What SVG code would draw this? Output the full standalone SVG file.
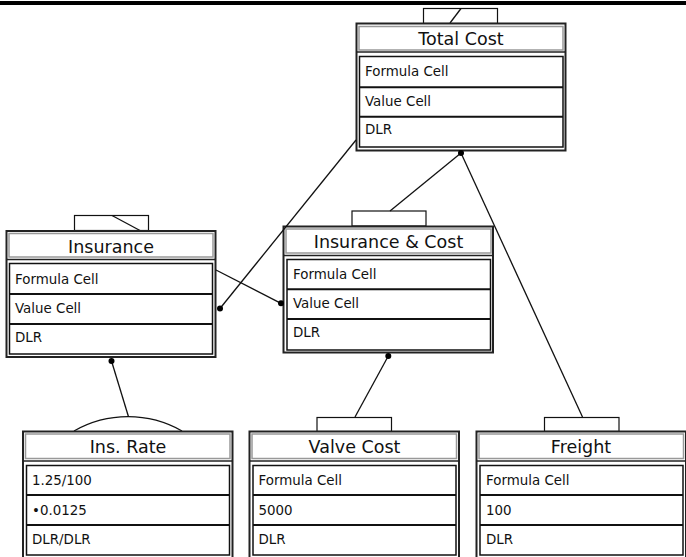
<svg xmlns="http://www.w3.org/2000/svg" width="686" height="557" viewBox="0 0 686 557">
<style>
.outer{fill:#fff;stroke:#222;stroke-width:2}
.title{fill:#fff;stroke:#999;stroke-width:1.5}
.sep{stroke:#222;stroke-width:1.5}
.rows{fill:#fff;stroke:#111;stroke-width:1.5}
.rsep{stroke:#111;stroke-width:2}
.tab{fill:#fff;stroke:#111;stroke-width:1.2}
.conn{stroke:#111;stroke-width:1.3;fill:none}
.dot{fill:#000}
.t{font-family:"DejaVu Sans",sans-serif;font-size:17.5px;fill:#111;text-anchor:middle}
.r{font-family:"DejaVu Sans",sans-serif;font-size:13.4px;fill:#111}
</style>
<rect x="0" y="1" width="686" height="4" fill="#000"/>

<g id="total-cost">
<rect class="tab" x="423.5" y="8.5" width="74" height="15"/>
<line class="conn" x1="450" y1="23" x2="461" y2="8.5"/>
<rect class="outer" x="356.5" y="23.5" width="209" height="127"/>
<rect class="title" x="359" y="26.5" width="204" height="23.5"/>
<line class="sep" x1="356.5" y1="52" x2="565.5" y2="52"/>
<rect class="rows" x="359.5" y="56.5" width="203.5" height="90.5"/>
<line class="rsep" x1="359.5" y1="87.3" x2="563" y2="87.3"/>
<line class="rsep" x1="359.5" y1="116.8" x2="563" y2="116.8"/>
<text class="t" x="461" y="45">Total Cost</text>
<text class="r" x="365" y="76">Formula Cell</text>
<text class="r" x="365" y="105.5">Value Cell</text>
<text class="r" x="365" y="134">DLR</text>
</g>

<g id="insurance">
<rect class="tab" x="74.5" y="215.5" width="74" height="15"/>
<line class="conn" x1="112" y1="215.5" x2="140" y2="230.5"/>
<rect class="outer" x="6.5" y="231" width="209" height="126"/>
<rect class="title" x="9" y="233.5" width="204" height="23.5"/>
<line class="sep" x1="6.5" y1="259.5" x2="215.5" y2="259.5"/>
<rect class="rows" x="9.5" y="263.5" width="203" height="90.5"/>
<line class="rsep" x1="9.5" y1="294" x2="212.5" y2="294"/>
<line class="rsep" x1="9.5" y1="324" x2="212.5" y2="324"/>
<text class="t" x="111" y="253">Insurance</text>
<text class="r" x="15" y="283.5">Formula Cell</text>
<text class="r" x="15" y="313">Value Cell</text>
<text class="r" x="15" y="342">DLR</text>
</g>

<g id="insurance-cost">
<rect class="tab" x="352" y="211" width="74" height="15"/>
<rect class="outer" x="283.5" y="226.5" width="209.5" height="126"/>
<rect class="title" x="286" y="229" width="205" height="24"/>
<line class="sep" x1="283.5" y1="255.5" x2="493" y2="255.5"/>
<rect class="rows" x="287" y="259.5" width="203.5" height="90.5"/>
<line class="rsep" x1="287" y1="289.3" x2="490.5" y2="289.3"/>
<line class="rsep" x1="287" y1="319" x2="490.5" y2="319"/>
<text class="t" x="388.5" y="248">Insurance &amp; Cost</text>
<text class="r" x="293" y="278.5">Formula Cell</text>
<text class="r" x="293" y="308">Value Cell</text>
<text class="r" x="293" y="337">DLR</text>
</g>

<g id="ins-rate">
<path class="conn" d="M74,431 A109,109 0 0 1 182,431"/>
<rect class="outer" x="23" y="431.5" width="209.5" height="127"/>
<rect class="title" x="25.5" y="434" width="204.5" height="24.5"/>
<line class="sep" x1="23" y1="461" x2="232.5" y2="461"/>
<rect class="rows" x="26.5" y="465.5" width="203" height="89.5"/>
<line class="rsep" x1="26.5" y1="495" x2="229.5" y2="495"/>
<line class="rsep" x1="26.5" y1="525" x2="229.5" y2="525"/>
<text class="t" x="128" y="453">Ins. Rate</text>
<text class="r" x="32" y="485">1.25/100</text>
<text class="r" x="32" y="515">•0.0125</text>
<text class="r" x="32" y="543.5">DLR/DLR</text>
</g>

<g id="valve-cost">
<rect class="tab" x="317" y="417.5" width="74.5" height="14"/>
<rect class="outer" x="249.5" y="431.5" width="209.5" height="127"/>
<rect class="title" x="252" y="434" width="204.5" height="24.5"/>
<line class="sep" x1="249.5" y1="461" x2="459" y2="461"/>
<rect class="rows" x="253" y="465.5" width="203" height="89.5"/>
<line class="rsep" x1="253" y1="495" x2="456" y2="495"/>
<line class="rsep" x1="253" y1="525" x2="456" y2="525"/>
<text class="t" x="354.5" y="453">Valve Cost</text>
<text class="r" x="258.5" y="485">Formula Cell</text>
<text class="r" x="258.5" y="515">5000</text>
<text class="r" x="258.5" y="543.5">DLR</text>
</g>

<g id="freight">
<rect class="tab" x="544.5" y="417.5" width="74.5" height="14"/>
<rect class="outer" x="476.5" y="431.5" width="209.5" height="127"/>
<rect class="title" x="479" y="434" width="204.5" height="24.5"/>
<line class="sep" x1="476.5" y1="461" x2="686" y2="461"/>
<rect class="rows" x="480" y="465.5" width="203" height="89.5"/>
<line class="rsep" x1="480" y1="495" x2="683" y2="495"/>
<line class="rsep" x1="480" y1="525" x2="683" y2="525"/>
<text class="t" x="581" y="453">Freight</text>
<text class="r" x="486" y="485">Formula Cell</text>
<text class="r" x="486" y="515">100</text>
<text class="r" x="486" y="543.5">DLR</text>
</g>

<g id="connectors">
<line class="conn" x1="356" y1="140" x2="220" y2="308.5"/>
<line class="conn" x1="216" y1="270" x2="281" y2="303.3"/>
<line class="conn" x1="461" y1="153" x2="390" y2="211"/>
<line class="conn" x1="461" y1="153" x2="582.5" y2="417"/>
<line class="conn" x1="111.5" y1="361" x2="128.5" y2="416.7"/>
<line class="conn" x1="388.3" y1="356" x2="355" y2="417"/>
<circle class="dot" cx="220" cy="308.5" r="3"/>
<circle class="dot" cx="281" cy="303.3" r="3"/>
<circle class="dot" cx="461" cy="153" r="3"/>
<circle class="dot" cx="111.5" cy="361" r="3"/>
<circle class="dot" cx="388.3" cy="356" r="3"/>
</g>
</svg>
